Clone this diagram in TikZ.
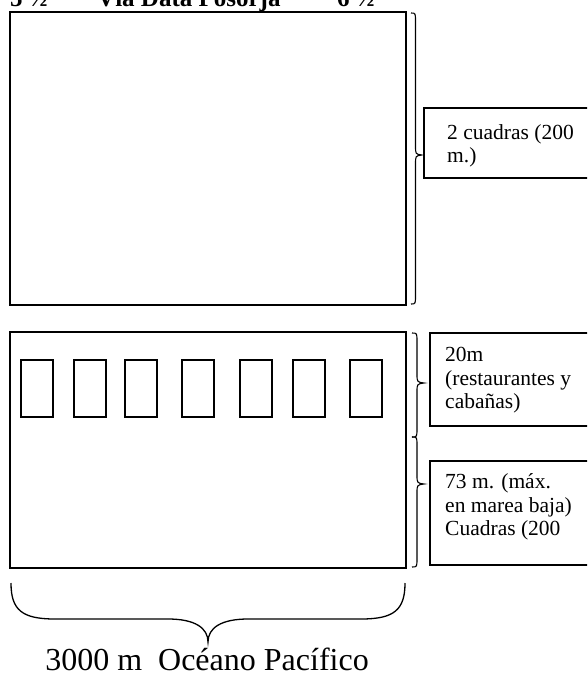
\documentclass[tikz,border=0pt]{standalone}
\usepackage{fontspec}
\setmainfont{Liberation Serif}
\newcommand\mybrace[6]{% x0, ytop, ytip, ybot, offset of the spine, offset of the tip
  \draw[brc] (#1,#2) .. controls (#1+#5,#2) .. (#1+#5,#2+9)
    -- (#1+#5,#3-9) .. controls (#1+#5,#3-1) .. (#1+#6,#3)
    .. controls (#1+#5,#3+1) .. (#1+#5,#3+9)
    -- (#1+#5,#4-9) .. controls (#1+#5,#4) .. (#1,#4);}
\begin{document}
\begin{tikzpicture}[x=1pt,y=-1pt,
  area/.style={draw, line width=1.3pt},
  hut/.style={draw, line width=1.2pt},
  brc/.style={line width=1.1pt},
  lbl/.style={anchor=base west, inner sep=0pt, font=\fontsize{21.5}{23}\selectfont},
  ttl/.style={anchor=base west, inner sep=0pt, font=\fontsize{25}{28}\selectfont\bfseries}]
\useasboundingbox (0,0) rectangle (587,680);
\clip (0,0) rectangle (587,680);
% title
\node[ttl] (t1) at (10,6) {5 ½};
\node[ttl] (t2) at (97,6) {Vía Data Posorja};
\node[ttl] (t3) at (337,6) {6 ½};
% land area
\draw[area] (10,12) rectangle (406,305);
\mybrace{411}{13}{155}{304}{4.5}{10.5}
\draw[area] (424,108) rectangle (600,178);
\node[lbl] (a1) at (447,139) {2 cuadras (200};
\node[lbl] (a2) at (447,162) {m.)};
% beach area
\draw[area] (10,332) rectangle (406,568);
\foreach \x in {21,74,125,182,240,293,350}
  \draw[hut] (\x,360) rectangle (\x+32,417);
\mybrace{412}{333}{383}{437}{5}{12}
\mybrace{412}{437}{484}{567}{5}{12}
\draw[area] (430,333) rectangle (600,426);
\node[lbl] (b1) at (445,361) {20m};
\node[lbl] (b2) at (445,385) {(restaurantes y};
\node[lbl] (b3) at (445,408) {cabañas)};
\draw[area] (430,461) rectangle (600,565);
\node[lbl] (c1) at (445,488) {73 m. (máx.};
\node[lbl] (c2) at (445,512) {en marea baja)};
\node[lbl] (c3) at (445,535) {Cuadras (200};
% bottom brace
\draw[brc, line width=1.3pt] (11,583) .. controls (11,610) and (22,619) .. (55,619)
  -- (168,619) .. controls (195,619) and (208,628) .. (208,642)
  .. controls (208,628) and (221,619) .. (248,619)
  -- (361,619) .. controls (394,619) and (405,610) .. (405,583);
\node[anchor=base, inner sep=0pt, font=\fontsize{32}{36}\selectfont] (o) at (207,670) {3000 m\ \ Océano Pacífico};
\end{tikzpicture}
\end{document}
